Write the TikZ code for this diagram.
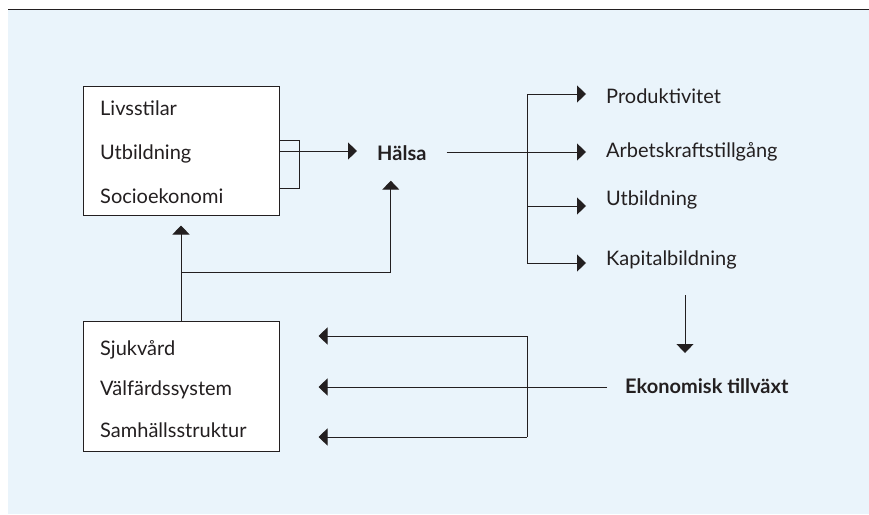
\documentclass[tikz,border=0pt]{standalone}
\usepackage{fontspec}
\setmainfont{Lato}
\usetikzlibrary{arrows.meta,positioning}

\definecolor{bgblue}{RGB}{234,244,251}
\definecolor{ink}{RGB}{35,31,32}

\tikzset{
  box/.style={draw=ink, fill=white, line width=1pt, minimum width=196pt, minimum height=129pt, inner sep=0pt},
  item/.style={anchor=west, inner sep=0pt, text=ink, font=\fontsize{20}{24}\selectfont},
  outcome/.style={item, inner xsep=20pt},
  key/.style={inner sep=20pt, text=ink, font=\bfseries\fontsize{20}{24}\selectfont},
  link/.style={draw=ink, line width=1pt},
  flow/.style={link, -{Triangle[length=9pt,width=17pt]}},
}

\begin{document}
\begin{tikzpicture}[x=1pt,y=-1pt]
\useasboundingbox (0,0) rectangle (869,514);
\fill[bgblue] (8,10) rectangle (869,514);
\draw[ink, line width=1pt] (8,9.5) -- (869,9.5);

% boxes on the left
\node[box] (faktorer) at (181,150.5) {};
\node[item] (livs) at (100,108) {Livsstilar};
\node[item] (utb) at (100,154) {Utbildning};
\node[item] (socio) at (100,196) {Socioekonomi};

\node[box, minimum height=130pt] (system) at (181,386) {};
\node[item] (sjuk) at (100,350) {Sjukvård};
\node[item] (valf) at (100,390) {Välfärdssystem};
\node[item] (samh) at (100,430) {Samhällsstruktur};

% centre
\node[key, anchor=west] (halsa) at (357,153) {Hälsa};
\node[key, anchor=west, inner xsep=18pt] (ekon) at (607,386) {Ekonomisk tillväxt};

% outcomes
\node[outcome] (prod) at (586,96) {Produktivitet};
\node[outcome] (arb) at (586,152) {Arbetskraftstillgång};
\node[outcome] (utb2) at (586,200) {Utbildning};
\node[outcome] (kap) at (586,260) {Kapitalbildning};

\coordinate (split) at (527,152);
\coordinate (ret) at (527,387);

% bracket into Hälsa
\draw[link] (faktorer.east |- 0,140) -| (299,188) -- (faktorer.east |- 0,188);
\draw[flow] (faktorer.east |- 0,151) -- (halsa.west |- 0,151);

% from system box
\draw[flow] (system.north) -- ([yshift=-10pt]faktorer.south);
\draw[flow] (system.north |- 0,272) -| ([xshift=-11pt]halsa.south);

% fork to outcomes
\draw[link] (halsa.east |- split) -- (split);
\draw[link] (split |- 0,94) -- (split |- 0,263);
\draw[flow] (split |- 0,94) -- (prod.west |- 0,94);
\draw[flow] (split) -- (arb.west |- split);
\draw[flow] (split |- 0,206) -- (utb2.west |- 0,206);
\draw[flow] (split |- 0,263) -- (kap.west |- 0,263);

% down to growth
\draw[flow] (685,295) -- (685,353);

% back to the system box
\draw[link] (ret |- 0,336) -- (ret |- 0,437);
\draw[flow] (ekon.west |- ret) -- ([xshift=39pt]system.east |- ret);
\draw[flow] (ret |- 0,336) -- ([xshift=39pt]system.east |- 0,336);
\draw[flow] (ret |- 0,437) -- ([xshift=39pt]system.east |- 0,437);
\end{tikzpicture}
\end{document}
